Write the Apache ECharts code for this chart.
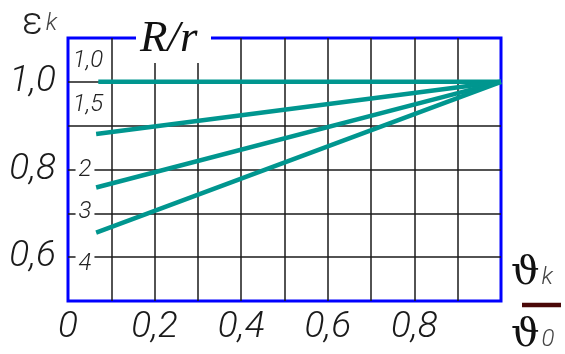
<!DOCTYPE html>
<html><head><meta charset="utf-8">
<script src="https://cdn.jsdelivr.net/npm/echarts@6/dist/echarts.min.js"></script>
<style>html,body{margin:0;padding:0;background:#fff}#c{width:565px;height:354px}</style>
</head><body><div id="c"></div>
<script>
// Data
const curveStartX = [0.07, 0.065, 0.065, 0.065];
const curveStartY = [1.0, 0.881, 0.759, 0.656];
const curveEndX = [1.0, 1.0, 1.0, 1.0];
const curveEndY = [1.0, 1.0, 1.0, 1.0];
const ratioLabels = ['1,0', '1,5', '2', '3', '4'];
const xTickLabels = ['0', '0,2', '0,4', '0,6', '0,8'];
const yTickLabels = {6: '0,6', 8: '0,8', 10: '1,0'};

const NARROW = 'Roboto, "DejaVu Sans Condensed", sans-serif';
const TEAL = '#00968f';

const chart = echarts.init(document.getElementById('c'), null, {renderer: 'canvas'});

const series = curveStartX.map((sx, i) => ({
  type: 'line',
  data: [[sx, curveStartY[i]], [curveEndX[i], curveEndY[i]]],
  symbol: 'none',
  clip: false,
  lineStyle: {color: TEAL, width: 4.5, cap: 'butt'},
  z: 5
}));

const labelFont = 'italic 300 24px ' + NARROW;
const smallLabelPos = [[88, 61, false], [88, 105, false], [85, 170, true], [85, 212, true], [85, 264, true]];

const graphic = [
  {type: 'rect', z: 100, shape: {x: 136, y: 28, width: 75, height: 35}, style: {fill: '#fff'}},
  {type: 'text', z: 101, style: {text: 'R/r', x: 140, y: 39, font: 'italic 45px "Liberation Serif", serif', fill: '#111', verticalAlign: 'middle'}},
  {type: 'text', z: 101, style: {
    x: 22, y: 24, verticalAlign: 'middle', text: '{e|ε}{k|k}',
    rich: {e: {font: '300 38px Roboto', fill: '#222'}, k: {font: 'italic 300 24px ' + NARROW, fill: '#444', padding: [0, 0, 0, 3]}}
  }},
  {type: 'text', z: 101, style: {
    x: 511, y: 274, verticalAlign: 'middle', text: '{t|ϑ}{k|k}',
    rich: {t: {font: '40px "DejaVu Serif"', fill: '#111'}, k: {font: 'italic 300 24px ' + NARROW, fill: '#444', padding: [8, 0, 0, 2]}}
  }},
  {type: 'line', z: 101, shape: {x1: 522, y1: 305, x2: 561, y2: 305}, style: {stroke: '#4a0808', lineWidth: 4.5}},
  {type: 'text', z: 101, style: {
    x: 511, y: 336, verticalAlign: 'middle', text: '{t|ϑ}{k|0}',
    rich: {t: {font: '40px "DejaVu Serif"', fill: '#111'}, k: {font: 'italic 300 24px ' + NARROW, fill: '#444', padding: [8, 0, 0, 2]}}
  }}
];
ratioLabels.forEach((t, i) => {
  const p = smallLabelPos[i];
  graphic.push({type: 'text', z: 101, style: {
    text: t, x: p[0], y: p[1], align: 'center', verticalAlign: 'middle', font: labelFont, fill: '#222',
    backgroundColor: p[2] ? '#fff' : 'transparent', padding: [0, 3]
  }});
});

chart.setOption({
  animation: false,
  backgroundColor: '#fff',
  grid: {left: 68, right: 64, top: 38, bottom: 53, show: true, borderColor: '#0000ff', borderWidth: 3, backgroundColor: 'transparent'},
  xAxis: {
    type: 'value', min: 0, max: 1, interval: 0.1,
    axisLine: {show: false}, axisTick: {show: false},
    splitLine: {show: true, showMinLine: false, showMaxLine: false, lineStyle: {color: '#1a1a1a', width: 1.5}},
    axisLabel: {
      margin: 8, color: '#1a1a1a', fontFamily: NARROW, fontStyle: 'italic', fontWeight: 300, fontSize: 37,
      formatter: v => { const i = Math.round(v * 10); return (i % 2 === 0 && i < 10) ? xTickLabels[i / 2] : ''; }
    }
  },
  yAxis: {
    type: 'value', min: 0.5, max: 1.1, interval: 0.1,
    axisLine: {show: false}, axisTick: {show: false},
    splitLine: {show: true, showMinLine: false, showMaxLine: false, lineStyle: {color: '#1a1a1a', width: 1.5}},
    axisLabel: {
      margin: 12, color: '#1a1a1a', fontFamily: NARROW, fontStyle: 'italic', fontWeight: 300, fontSize: 37,
      formatter: v => { const i = Math.round(v * 10); return yTickLabels[i] || ''; }
    }
  },
  series: series,
  graphic: graphic
});
</script></body></html>
